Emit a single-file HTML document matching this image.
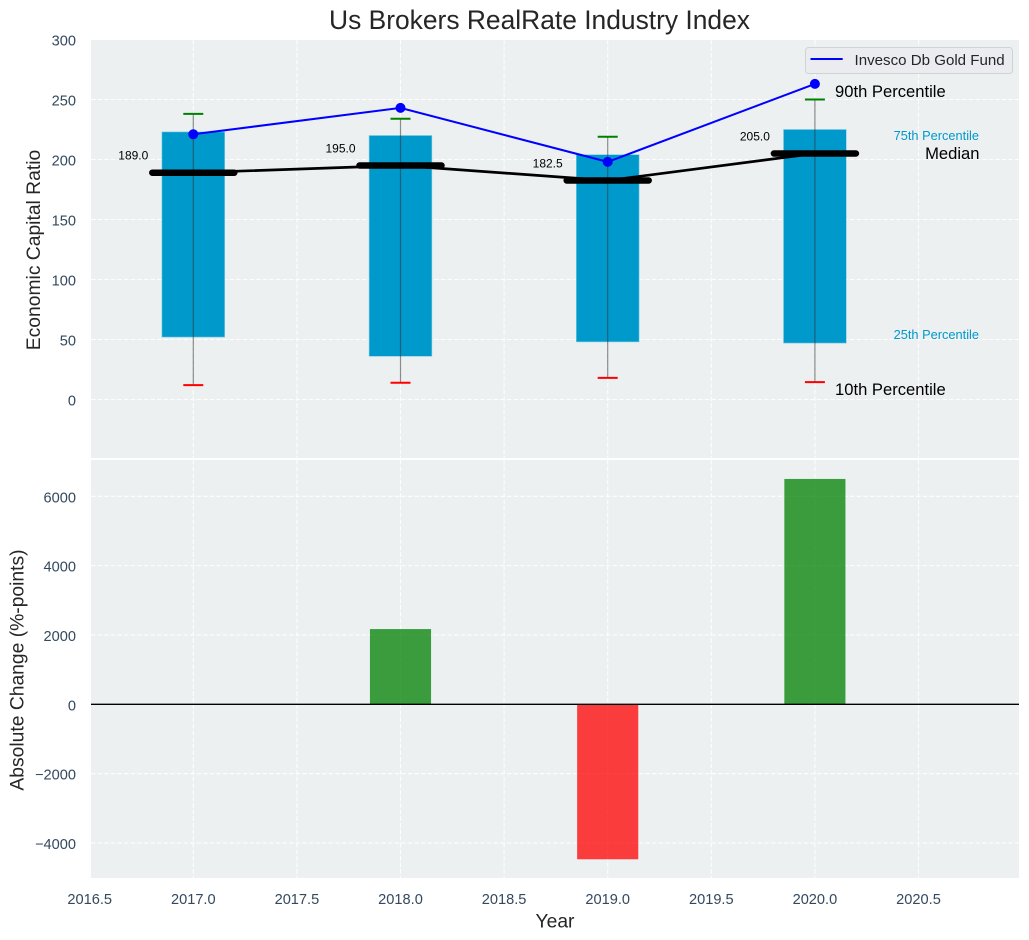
<!DOCTYPE html>
<html>
<head>
<meta charset="utf-8">
<title>Us Brokers RealRate Industry Index</title>
<style>
html,body{margin:0;padding:0;background:#fff;}
svg{display:block;font-family:"Liberation Sans",Arial,sans-serif;}
</style>
</head>
<body>
<svg id="chart" width="1029" height="940" viewBox="0 0 1029 940" xmlns="http://www.w3.org/2000/svg"></svg>
<script>
const years = [2017, 2018, 2019, 2020];
const p25 = [52, 36, 48, 47];
const p75 = [223, 220, 204, 225];
const p10 = [12, 14, 18, 14.5];
const p90 = [238, 234, 219, 250];
const medians = [189, 195, 182.5, 205];
const medianLabels = ["189.0", "195.0", "182.5", "205.0"];
const goldFund = [221, 243, 198, 263];
const changeYears = [2018, 2019, 2020];
const changes = [2170, -4470, 6500];
const xTicks = [2016.5, 2017, 2017.5, 2018, 2018.5, 2019, 2019.5, 2020, 2020.5];
const topTicks = [0, 50, 100, 150, 200, 250, 300];
const bottomTicks = [-4000, -2000, 0, 2000, 4000, 6000];

const NS = 'http://www.w3.org/2000/svg';
const svg = document.getElementById('chart');
const PLOT_L = 91, PLOT_R = 1019;
const TOP_T = 40, TOP_B = 458, BOT_T = 460, BOT_B = 878;
const X = v => 193.3 + (v - 2017) * 207.2;
const YT = v => 399.5 - v * 1.2;
const YB = v => 704.3 - v * 0.03467;

function mk(tag, attrs, text) {
  const el = document.createElementNS(NS, tag);
  for (const k in attrs) el.setAttribute(k, attrs[k]);
  if (text !== undefined) el.textContent = text;
  svg.appendChild(el);
  return el;
}

// panels
let el = mk('rect', {x: PLOT_L, y: TOP_T, width: PLOT_R - PLOT_L, height: TOP_B - TOP_T, fill: '#ecf0f1'});


el = mk('rect', {x: PLOT_L, y: BOT_T, width: PLOT_R - PLOT_L, height: BOT_B - BOT_T, fill: '#ecf0f1'});



const gridStyle = {stroke: '#ffffff', 'stroke-width': 1.1, 'stroke-dasharray': '4.6 2', opacity: 0.9};

// grid + x ticks
xTicks.forEach(t => {
  const px = X(t);
  if (px >= PLOT_L) {
    el = mk('line', Object.assign({x1: px, x2: px, y1: TOP_T, y2: TOP_B}, gridStyle));
    
    
    el = mk('line', Object.assign({x1: px, x2: px, y1: BOT_T, y2: BOT_B}, gridStyle));
    
    
  }
  el = mk('text', {x: px, y: 904, 'text-anchor': 'middle', 'font-size': 14.6, fill: '#34495e'}, t.toFixed(1));
  
  
});

topTicks.forEach(t => {
  const py = YT(t);
  if (py > TOP_T) {
    el = mk('line', Object.assign({x1: PLOT_L, x2: PLOT_R, y1: py, y2: py}, gridStyle));
    
    
  }
  el = mk('text', {x: 76, y: py + 6, 'text-anchor': 'end', 'font-size': 14.6, fill: '#34495e'}, String(t));
  
  
});

bottomTicks.forEach(t => {
  const py = YB(t);
  el = mk('line', Object.assign({x1: PLOT_L, x2: PLOT_R, y1: py, y2: py}, gridStyle));
  
  
  el = mk('text', {x: 76, y: py + 6, 'text-anchor': 'end', 'font-size': 14.6, fill: '#34495e'}, String(t).replace('-', '\u2212'));
  
  
});

// interquartile bars
years.forEach((yr, i) => {
  const w = 0.303 * 207.2;
  el = mk('rect', {x: X(yr) - w / 2, y: YT(p75[i]), width: w, height: YT(p25[i]) - YT(p75[i]), fill: '#0099cc', stroke: '#7fcce5', 'stroke-width': 0.6});
  
  
});

// whiskers
years.forEach((yr, i) => {
  el = mk('line', {x1: X(yr), x2: X(yr), y1: YT(p90[i]), y2: YT(p10[i]), stroke: '#333333', 'stroke-width': 1.2, opacity: 0.55});
  
  
  el = mk('line', {x1: X(yr) - 10, x2: X(yr) + 10, y1: YT(p90[i]), y2: YT(p90[i]), stroke: '#008000', 'stroke-width': 2});
  
  
  el = mk('line', {x1: X(yr) - 10, x2: X(yr) + 10, y1: YT(p10[i]), y2: YT(p10[i]), stroke: '#ff0000', 'stroke-width': 2});
  
  
});

// median line
el = mk('polyline', {points: years.map((yr, i) => X(yr) + ',' + YT(medians[i])).join(' '), fill: 'none', stroke: '#000', 'stroke-width': 2.7});



years.forEach((yr, i) => {
  el = mk('line', {x1: X(yr) - 41, x2: X(yr) + 41, y1: YT(medians[i]), y2: YT(medians[i]), stroke: '#000', 'stroke-width': 6.5, 'stroke-linecap': 'round'});
  
  
  el = mk('text', {x: X(yr) - 45, y: YT(medians[i]) - 13, 'text-anchor': 'end', 'font-size': 12, fill: '#000'}, medianLabels[i]);
  
  
});

// gold fund line
el = mk('polyline', {points: years.map((yr, i) => X(yr) + ',' + YT(goldFund[i])).join(' '), fill: 'none', stroke: '#0000ff', 'stroke-width': 2});


years.forEach((yr, i) => {
  el = mk('circle', {cx: X(yr), cy: YT(goldFund[i]), r: 5, fill: '#0000ff'});
  
  
});

// percentile annotations
el = mk('text', {x: 835, y: 97, 'font-size': 16.6, fill: '#000'}, '90th Percentile');


el = mk('text', {x: 979, y: 140, 'text-anchor': 'end', 'font-size': 12.8, fill: '#0099cc'}, '75th Percentile');


el = mk('text', {x: 979.5, y: 159, 'text-anchor': 'end', 'font-size': 16.6, fill: '#000'}, 'Median');


el = mk('text', {x: 979, y: 339, 'text-anchor': 'end', 'font-size': 12.8, fill: '#0099cc'}, '25th Percentile');


el = mk('text', {x: 835, y: 395, 'font-size': 16.6, fill: '#000'}, '10th Percentile');



// legend
el = mk('rect', {x: 805.5, y: 47.5, width: 207, height: 26, rx: 3, fill: '#eaecf0', stroke: '#d0d3d6', 'stroke-width': 1});


el = mk('line', {x1: 810.5, x2: 842.7, y1: 59, y2: 59, stroke: '#0000ff', 'stroke-width': 2});


el = mk('text', {x: 854.5, y: 65, 'font-size': 15.1, fill: '#262626'}, 'Invesco Db Gold Fund');



// change bars
changeYears.forEach((yr, i) => {
  const w = 0.295 * 207.2;
  const v = changes[i];
  el = mk('rect', {x: X(yr) - w / 2, y: Math.min(YB(0), YB(v)), width: w, height: Math.abs(YB(v) - YB(0)), fill: v >= 0 ? '#008000' : '#ff0000', opacity: 0.75});
  
  
});
el = mk('line', {x1: PLOT_L, x2: PLOT_R, y1: YB(0), y2: YB(0), stroke: '#000', 'stroke-width': 1.3});



// titles
el = mk('text', {x: 539.5, y: 29, 'text-anchor': 'middle', 'font-size': 26.4, fill: '#262626'}, 'Us Brokers RealRate Industry Index');


el = mk('text', {x: 555, y: 927.5, 'text-anchor': 'middle', 'font-size': 19.3, fill: '#262626'}, 'Year');


el = mk('text', {transform: 'translate(40 250) rotate(-90)', 'text-anchor': 'middle', 'font-size': 19.3, fill: '#262626'}, 'Economic Capital Ratio');


el = mk('text', {transform: 'translate(23.5 670) rotate(-90)', 'text-anchor': 'middle', 'font-size': 19.3, fill: '#262626'}, 'Absolute Change (%-points)');


</script>
</body>
</html>
